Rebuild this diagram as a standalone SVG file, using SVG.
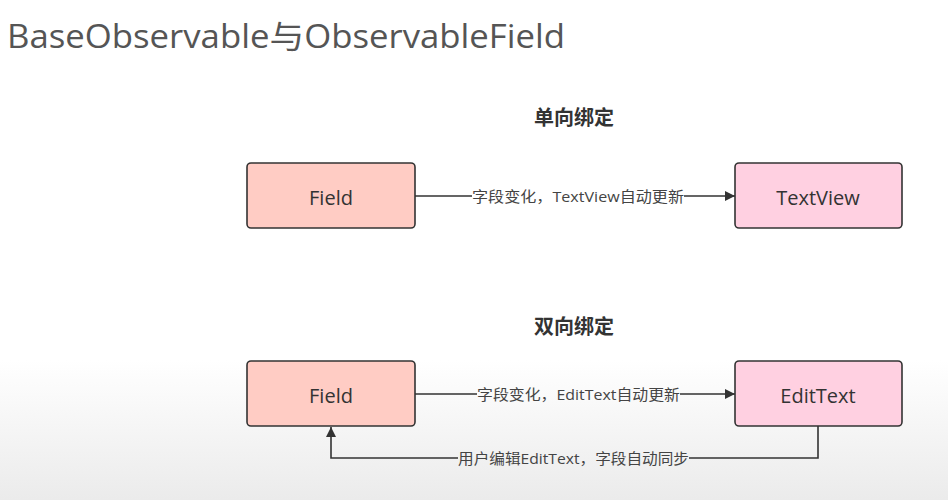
<svg xmlns="http://www.w3.org/2000/svg" width="948" height="500" viewBox="0 0 948 500">
<defs>
<linearGradient id="bg" x1="0" y1="0" x2="0" y2="1">
<stop offset="0" stop-color="#ffffff"/>
<stop offset="0.72" stop-color="#ffffff"/>
<stop offset="1" stop-color="#ebebeb"/>
</linearGradient>
<marker id="arr" viewBox="0 0 10 10" refX="10" refY="5" markerWidth="10" markerHeight="10" markerUnits="userSpaceOnUse" orient="auto">
<path d="M0,0 L10,5 L0,10 z" fill="#333"/>
</marker>
<style>
.title{font-family:"Open Sans","Noto Sans","Noto Sans CJK SC",sans-serif;font-size:32px;fill:#555}
.head{font-family:"Noto Sans CJK SC",sans-serif;font-size:20px;font-weight:bold;fill:#333}
.box{stroke:#333;stroke-width:1.6}
.f{fill:#ffccc4}
.t{fill:#ffd0e1}
.nl{font-family:"Open Sans","Noto Sans",sans-serif;font-size:20px;fill:#333;text-anchor:middle;dominant-baseline:central}
.line{fill:none;stroke:#333;stroke-width:1.6}
.lbl{font-family:"Open Sans","Noto Sans","Noto Sans CJK SC",sans-serif;font-size:14.5px;fill:#444;dominant-baseline:central}
</style>
</defs>
<rect width="948" height="500" fill="url(#bg)"/>
<text class="title" x="7" y="48" textLength="558" lengthAdjust="spacingAndGlyphs">BaseObservable与ObservableField</text>
<text class="head" x="574" y="125" text-anchor="middle">单向绑定</text>
<text class="head" x="574" y="334" text-anchor="middle">双向绑定</text>

<g id="connectors">
<path class="line" d="M415,196 H472 M684,196 H735" marker-end="url(#arr)"/>
<text class="lbl" x="472" y="196" textLength="212" lengthAdjust="spacingAndGlyphs">字段变化，TextView自动更新</text>
<path class="line" d="M415,394 H477 M680,394 H735" marker-end="url(#arr)"/>
<text class="lbl" x="477" y="394" textLength="203" lengthAdjust="spacingAndGlyphs">字段变化，EditText自动更新</text>
<path class="line" d="M818,426 V458 H689 M458,458 H331 V427" marker-end="url(#arr)"/>
<text class="lbl" x="458" y="458" textLength="231" lengthAdjust="spacingAndGlyphs">用户编辑EditText，字段自动同步</text>
</g>

<g id="field1"><rect class="box f" x="247" y="163" width="168" height="65" rx="4"/><text class="nl" x="331" y="197">Field</text></g>
<g id="textview"><rect class="box t" x="735" y="163" width="167" height="65" rx="4"/><text class="nl" x="818" y="197">TextView</text></g>
<g id="field2"><rect class="box f" x="247" y="361" width="168" height="65" rx="4"/><text class="nl" x="331" y="395">Field</text></g>
<g id="edittext"><rect class="box t" x="735" y="361" width="167" height="65" rx="4"/><text class="nl" x="818" y="395">EditText</text></g>
</svg>
